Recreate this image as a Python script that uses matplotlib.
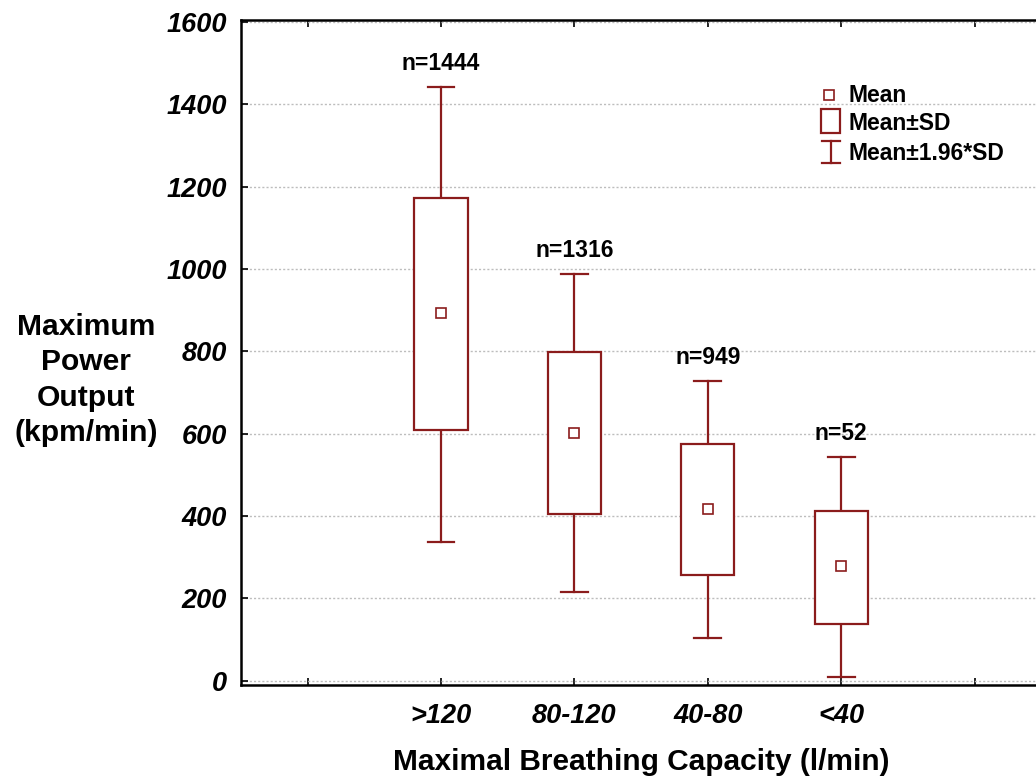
import matplotlib
matplotlib.use("Agg")
import matplotlib.pyplot as plt
from matplotlib.patches import Rectangle
from matplotlib.lines import Line2D

categories = [">120", "80-120", "40-80", "<40"]
means = [893, 603, 417, 278]
sd_low = [608, 404, 257, 139]
sd_high = [1172, 798, 575, 412]
ci_low = [337, 216, 105, 9]
ci_high = [1442, 988, 728, 543]
n_labels = ["n=1444", "n=1316", "n=949", "n=52"]
y_ticks = [0, 200, 400, 600, 800, 1000, 1200, 1400, 1600]

color = "#8b1c1c"
font = "Liberation Sans"

fig = plt.figure(figsize=(10.36, 7.83), dpi=100)
ax = fig.add_axes([0.2326, 0.1252, 0.7725, 0.8493])

positions = list(range(1, len(categories) + 1))
box_w = 0.40
cap_w = 0.20

for x, m, lo, hi, wlo, whi, lab in zip(positions, means, sd_low, sd_high, ci_low, ci_high, n_labels):
    ax.plot([x, x], [wlo, lo], color=color, lw=1.6, zorder=3)
    ax.plot([x, x], [hi, whi], color=color, lw=1.6, zorder=3)
    ax.plot([x - cap_w / 2, x + cap_w / 2], [wlo, wlo], color=color, lw=1.6, zorder=3)
    ax.plot([x - cap_w / 2, x + cap_w / 2], [whi, whi], color=color, lw=1.6, zorder=3)
    ax.add_patch(Rectangle((x - box_w / 2, lo), box_w, hi - lo, facecolor="white",
                           edgecolor=color, lw=1.6, zorder=3))
    ax.plot([x], [m], marker="s", markersize=7, markerfacecolor="white",
            markeredgecolor=color, markeredgewidth=1.2, zorder=4)
    ax.annotate(lab, (x, whi), xytext=(0, 17), textcoords="offset points",
                ha="center", va="center", fontsize=16.5, fontweight="bold",
                family=font, color="black")

ax.set_xlim(-0.5, 5.5)
ax.set_ylim(-10, 1605)
ax.set_xticks([0, 1, 2, 3, 4, 5])
ax.set_xticklabels([""] + categories + [""])
ax.set_yticks(y_ticks)
ax.set_yticklabels([str(v) for v in y_ticks])
for t in ax.get_xticklabels() + ax.get_yticklabels():
    t.set_fontfamily(font)
    t.set_fontsize(19.5)
    t.set_fontweight("bold")
    t.set_fontstyle("italic")

ax.tick_params(axis="x", direction="in", length=5, width=1.2, top=True, pad=13)
ax.tick_params(axis="y", direction="in", length=5, width=1.2, pad=10)
ax.yaxis.grid(True, linestyle=(0, (1.5, 1.5)), color="#bdbdbd", lw=1)
ax.set_axisbelow(True)
for s in ["left", "bottom", "top"]:
    ax.spines[s].set_linewidth(1.8)
    ax.spines[s].set_color("black")
ax.spines["right"].set_visible(False)

ax.set_xlabel("Maximal Breathing Capacity (l/min)", fontsize=21.5, fontweight="bold",
              family=font, labelpad=14)
fig.text(86 / 1036, 1 - 380 / 783, "Maximum\nPower\nOutput\n(kpm/min)", ha="center",
         va="center", fontsize=21.6, fontweight="bold", family=font, linespacing=1.34)

# legend (drawn in figure pixel coordinates)
def px(x, y):
    return x / 1036, 1 - y / 783

tf = fig.transFigure
fig.add_artist(Line2D([px(829, 95)[0]], [px(829, 95)[1]], marker="s", markersize=7,
                      markerfacecolor="white", markeredgecolor=color, markeredgewidth=1.2,
                      transform=tf))
x0, y0 = px(821, 133)
x1, y1 = px(840, 109)
fig.add_artist(Rectangle((x0, y0), x1 - x0, y1 - y0, transform=tf, facecolor="white",
                         edgecolor=color, lw=1.6))
xa, ya = px(831, 141)
xb, yb = px(831, 163)
fig.add_artist(Line2D([xa, xa], [ya, yb], color=color, lw=1.6, transform=tf))
fig.add_artist(Line2D([px(822, 0)[0], px(840, 0)[0]], [ya, ya], color=color, lw=1.6, transform=tf))
fig.add_artist(Line2D([px(822, 0)[0], px(840, 0)[0]], [yb, yb], color=color, lw=1.6, transform=tf))
for txt, yy in [("Mean", 96), ("Mean±SD", 123), ("Mean±1.96*SD", 153)]:
    fig.text(px(848, yy)[0], px(848, yy)[1], txt, ha="left", va="center", fontsize=16.5,
             fontweight="bold", family=font)

fig.savefig("out.png", dpi=100)
